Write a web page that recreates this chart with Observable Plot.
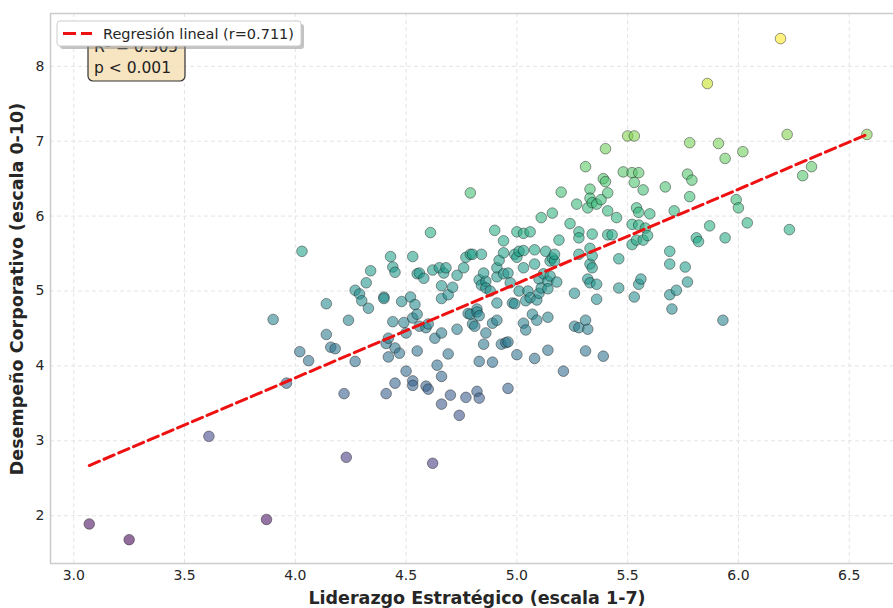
<!DOCTYPE html>
<html>
<head>
<meta charset="utf-8">
<script src="https://cdn.jsdelivr.net/npm/d3@7"></script>
<script src="https://cdn.jsdelivr.net/npm/@observablehq/plot@0.6"></script>
<style>
  html, body { margin: 0; padding: 0; background: white; }
  #chart { width: 893px; height: 608px; }
</style>
</head>
<body>
<div id="chart"></div>
<script>
// Liderazgo Estratégico (escala 1-7)
const liderazgo = [
  3.07,3.25,3.87,3.61,4.23,4.62,3.90,4.03,3.96,4.02,
  4.06,4.22,4.14,4.14,4.16,4.18,4.24,4.27,4.27,4.29,
  4.30,4.32,4.33,4.34,4.40,4.40,4.41,4.43,4.44,4.45,
  4.41,4.42,4.44,4.49,4.42,4.45,4.45,4.47,4.48,4.50,
  4.50,4.52,4.53,4.54,4.55,4.53,4.53,4.53,4.55,4.56,
  4.55,4.56,4.58,4.59,4.59,4.60,4.60,4.61,4.62,4.63,
  4.64,4.66,4.65,4.66,4.66,4.67,4.68,4.66,4.66,4.69,
  4.69,4.70,4.71,4.73,4.73,4.74,4.76,4.77,4.77,4.79,
  4.79,4.80,4.78,4.79,4.80,4.82,4.82,4.81,4.83,4.82,
  4.83,4.83,4.84,4.86,4.86,4.83,4.84,4.85,4.85,4.86,
  4.88,4.89,4.89,4.90,4.91,4.91,4.91,4.91,4.92,4.93,
  4.94,4.94,4.94,4.95,4.96,4.96,4.96,4.97,4.98,4.99,
  5.00,4.99,5.00,5.00,5.01,5.01,5.03,5.03,5.03,5.04,
  5.03,5.04,5.05,5.06,5.06,5.07,5.08,5.08,5.08,5.09,
  5.09,5.10,5.10,5.11,5.11,5.12,5.13,5.14,5.14,5.14,
  5.14,5.15,5.15,5.16,5.16,5.17,5.17,5.18,5.19,5.20,
  5.21,5.24,5.26,5.26,5.27,5.28,5.28,5.28,5.28,5.31,
  5.31,5.31,5.32,5.32,5.32,5.33,5.33,5.33,5.33,5.33,
  5.34,5.34,5.34,5.34,5.36,5.36,5.36,5.38,5.39,5.39,
  5.40,5.40,5.41,5.41,5.41,5.43,5.45,5.46,5.46,5.48,
  5.50,5.52,5.53,5.53,5.52,5.52,5.53,5.54,5.54,5.55,
  5.55,5.55,5.55,5.56,5.57,5.57,5.58,5.59,5.60,5.67,
  5.69,5.69,5.71,5.69,5.70,5.72,5.76,5.77,5.77,5.78,
  5.79,5.78,5.81,5.82,5.86,5.87,5.91,5.93,5.94,5.94,
  5.99,6.00,6.02,6.04,6.19,6.22,6.23,6.29,6.33,6.58
];
// Desempeño Corporativo (escala 0-10)
const desempeno = [
  1.89,1.68,1.95,3.06,2.78,2.70,4.62,5.53,3.77,4.19,
  4.07,3.63,4.42,4.83,4.25,4.23,4.61,4.06,5.01,4.96,
  4.87,5.11,4.77,5.27,4.92,4.90,3.63,5.46,5.32,5.25,
  4.30,4.37,4.59,4.58,4.12,3.77,4.24,4.17,4.86,3.93,
  4.44,4.92,4.64,4.82,4.69,5.46,3.80,3.74,5.23,5.24,
  4.20,4.53,5.17,4.51,3.73,3.69,4.56,5.78,5.28,4.37,
  4.01,4.44,5.31,5.07,4.90,5.24,5.31,3.86,3.49,4.95,
  4.16,3.61,5.05,4.49,5.21,3.34,5.31,3.58,5.45,6.31,
  5.49,5.49,4.70,4.69,4.56,4.76,4.72,4.53,4.67,3.66,
  3.57,5.15,5.08,5.13,5.04,4.06,5.49,5.24,4.29,4.44,
  5.00,4.57,4.05,5.81,4.61,4.84,5.19,5.31,5.41,4.29,
  5.23,5.51,5.67,4.31,5.24,4.32,3.70,5.11,4.84,5.49,
  5.45,4.83,4.15,5.79,5.00,5.53,5.77,5.54,5.31,4.87,
  4.57,4.48,5.00,4.91,5.79,4.69,5.36,5.55,4.10,4.61,
  4.88,5.16,4.97,5.04,5.98,5.23,5.53,4.65,5.13,5.03,
  4.21,5.40,5.20,5.44,6.04,5.40,5.49,5.12,5.68,6.32,
  3.93,5.90,4.97,4.53,6.16,5.79,5.71,5.49,4.51,6.66,
  4.61,4.20,4.49,6.11,5.16,5.11,5.36,6.36,6.24,5.57,
  6.18,5.76,5.31,5.47,6.16,4.89,5.09,6.22,6.50,4.13,
  6.46,6.90,6.31,6.07,5.75,5.75,5.98,5.43,5.04,6.59,
  7.07,6.58,7.07,6.45,5.89,5.62,4.92,6.11,5.68,6.05,
  6.58,5.88,5.09,5.16,6.35,5.68,5.84,5.74,6.03,6.39,
  5.53,5.36,6.07,4.95,4.76,5.01,5.32,5.12,6.56,6.98,
  6.48,6.26,5.71,5.66,7.77,5.87,6.97,4.61,6.77,5.71,
  6.22,6.11,6.86,5.91,8.37,7.09,5.82,6.54,6.66,7.09
];
const xTicks = [3.0, 3.5, 4.0, 4.5, 5.0, 5.5, 6.0, 6.5];
const yTicks = [2, 3, 4, 5, 6, 7, 8];
const regresion = { intercepto: -1.195, pendiente: 1.259, r: 0.711 };
const estadisticos = ["R² = 0.505", "p < 0.001"];
const etiquetaX = "Liderazgo Estratégico (escala 1-7)";
const etiquetaY = "Desempeño Corporativo (escala 0-10)";
const leyenda = `Regresión lineal (r=${regresion.r})`;

const puntos = liderazgo.map((x, i) => ({ x, y: desempeno[i] }));
const xExt = d3.extent(liderazgo);
const linea = xExt.map(x => ({ x, y: regresion.intercepto + regresion.pendiente * x }));

const xDomain = [2.895, 6.70];
const yDomain = [1.362, 8.705];

const plot = Plot.plot({
  width: 893,
  height: 608,
  marginLeft: 50,
  marginRight: 0,
  marginTop: 13,
  marginBottom: 45,
  style: { fontFamily: "DejaVu Sans", fontSize: "14px", color: "#262626", background: "white", overflow: "visible" },
  x: { domain: xDomain },
  y: { domain: yDomain },
  color: { type: "linear", scheme: "viridis", domain: d3.extent(desempeno) },
  marks: [
    Plot.gridX(xTicks, { stroke: "#e4e4e4", strokeOpacity: 1, strokeWidth: 1, strokeDasharray: "4,3" }),
    Plot.gridY(yTicks, { stroke: "#e4e4e4", strokeOpacity: 1, strokeWidth: 1, strokeDasharray: "4,3" }),
    Plot.ruleX([xDomain[0]], { stroke: "#cccccc", strokeWidth: 1.6 }),
    Plot.ruleY(yDomain, { stroke: "#cccccc", strokeWidth: 1.6 }),
    Plot.axisX(xTicks, { tickSize: 0, tickPadding: 7, tickFormat: d3.format(".1f"), label: null, fontSize: 14 }),
    Plot.axisY(yTicks, { tickSize: 0, tickPadding: 6, tickFormat: d3.format("d"), label: null, fontSize: 14 }),
    Plot.dot(puntos, {
      x: "x", y: "y", r: 5.3, fill: "y", fillOpacity: 0.58,
      stroke: "#1a1a1a", strokeOpacity: 0.5, strokeWidth: 0.9
    }),
    Plot.line(linea, { x: "x", y: "y", stroke: "#ee1111", strokeWidth: 3, strokeDasharray: "11,5" })
  ]
});

const svg = d3.select(plot);
const NS = svg.append("g").attr("font-family", "DejaVu Sans").attr("text-anchor", "start");

// axis labels
NS.append("text").attr("x", 477).attr("y", 604).attr("text-anchor", "middle")
  .attr("font-size", 17.5).attr("font-weight", "bold").attr("fill", "#262626").text(etiquetaX);
NS.append("text").attr("transform", "translate(23,289) rotate(-90)").attr("text-anchor", "middle")
  .attr("font-size", 17.5).attr("font-weight", "bold").attr("fill", "#262626").text(etiquetaY);

// stats box
NS.append("rect").attr("x", 88).attr("y", 30).attr("width", 97).attr("height", 51).attr("rx", 5)
  .attr("fill", "#f5deb3").attr("fill-opacity", 0.8).attr("stroke", "#333").attr("stroke-width", 1.2);
estadisticos.forEach((t, i) => {
  NS.append("text").attr("x", 94).attr("y", 52 + i * 21).attr("text-anchor", "start")
    .attr("font-size", 15.5).attr("fill", "#222").text(t);
});

// legend
NS.append("rect").attr("x", 60).attr("y", 24).attr("width", 244).attr("height", 25).attr("rx", 3)
  .attr("fill", "#888").attr("fill-opacity", 0.5);
NS.append("rect").attr("x", 57).attr("y", 21).attr("width", 244).attr("height", 25).attr("rx", 3)
  .attr("fill", "white").attr("stroke", "#cccccc").attr("stroke-width", 1);
NS.append("line").attr("x1", 63).attr("x2", 92).attr("y1", 33.5).attr("y2", 33.5)
  .attr("stroke", "#ee1111").attr("stroke-width", 3).attr("stroke-dasharray", "13,5");
NS.append("text").attr("x", 103).attr("y", 38.5).attr("text-anchor", "start")
  .attr("font-size", 14.5).attr("fill", "#262626").text(leyenda);

document.getElementById("chart").appendChild(plot);
</script>
</body>
</html>
